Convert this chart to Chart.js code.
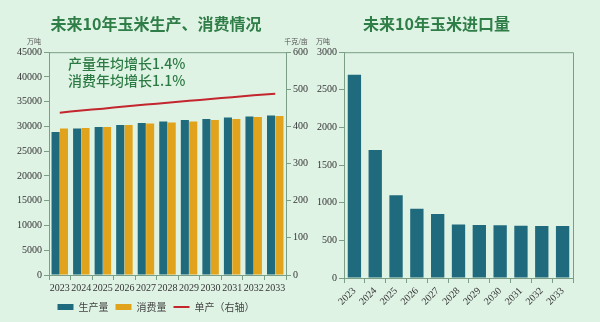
<!DOCTYPE html>
<html>
<head>
<meta charset="utf-8">
<script src="https://cdn.jsdelivr.net/npm/chart.js"></script>
<style>
  html, body { margin: 0; padding: 0; background: #dff3e5; }
  #wrap { position: relative; width: 600px; height: 322px; overflow: hidden; }
  #left { position: absolute; left: 0; top: 0; }
  #right { position: absolute; left: 300px; top: 0; }
</style>
</head>
<body>
<div id="wrap">
  <canvas id="left" width="312" height="322"></canvas>
  <canvas id="right" width="300" height="322"></canvas>
</div>
<script>
const years = ["2023", "2024", "2025", "2026", "2027", "2028", "2029", "2030", "2031", "2032", "2033"];
const production = [28900, 29600, 29900, 30300, 30700, 31000, 31300, 31500, 31800, 32000, 32200];
const consumption = [29600, 29700, 29900, 30300, 30600, 30800, 31000, 31300, 31500, 31900, 32100];
const yieldPerMu = [437, 443, 448, 454, 459, 464, 469, 474, 479, 484, 488];
const imports = [2700, 1700, 1100, 920, 850, 710, 705, 700, 695, 690, 690];
const notes = ["产量年均增长1.4%", "消费年均增长1.1%"];

const teal = "#1f6a7d";
const gold = "#e1a31b";
const red = "#c3262d";
const axisColor = "#7b9f86";
const green = "#2f7d47";
const numFont = { family: "'Liberation Serif', serif", size: 10 };

// frame, unit labels and notes
const extras = {
  id: "extras",
  afterDraw(chart, args, opts) {
    const { ctx, chartArea: a } = chart;
    ctx.save();
    ctx.strokeStyle = axisColor;
    ctx.lineWidth = 1;
    ctx.beginPath();
    ctx.moveTo(a.left, a.top + 0.5);
    ctx.lineTo(a.right + 0.5, a.top + 0.5);
    ctx.lineTo(a.right + 0.5, a.bottom);
    ctx.stroke();

    ctx.fillStyle = "#555";
    ctx.font = "7px 'Noto Sans CJK SC'";
    ctx.textAlign = "center";
    ctx.textBaseline = "middle";
    (opts.units || []).forEach(u => ctx.fillText(u.text, a.left + u.dx, a.top - 11));

    if (opts.notes) {
      ctx.fillStyle = "#2c7a43";
      ctx.font = "500 14px 'Noto Sans CJK SC'";
      ctx.textAlign = "left";
      opts.notes.forEach((t, i) => ctx.fillText(t, a.left + 19, a.top + 11 + i * 17));
    }
    ctx.restore();
  }
};

const axisBase = {
  border: { display: true, color: axisColor, width: 1 },
  grid: { display: true, drawOnChartArea: false, drawTicks: true, tickLength: 5, color: axisColor },
  ticks: { color: "#333", font: numFont, padding: 2 }
};
const plainTicks = (step) => ({ ...axisBase.ticks, stepSize: step, callback: v => String(v) });
const catTicks = (rot) => ({ ...axisBase.ticks, autoSkip: false, minRotation: rot, maxRotation: rot });

const titleOpts = (text) => ({
  display: true,
  text,
  color: green,
  font: { family: "'Noto Sans CJK SC'", size: 16, weight: "bold" },
  padding: { top: 14, bottom: 19 }
});

new Chart(document.getElementById("left"), {
  type: "bar",
  data: {
    labels: years,
    datasets: [
      { label: "单产（右轴）", type: "line", data: yieldPerMu, yAxisID: "y1",
        borderColor: red, backgroundColor: red, borderWidth: 2, pointRadius: 0,
        tension: 0.3, order: 0, pointStyle: "line" },
      { label: "生产量", data: production, backgroundColor: teal, yAxisID: "y",
        barPercentage: 0.96, categoryPercentage: 0.78, order: 1, pointStyle: "rect" },
      { label: "消费量", data: consumption, backgroundColor: gold, yAxisID: "y",
        barPercentage: 0.96, categoryPercentage: 0.78, order: 1, pointStyle: "rect" }
    ]
  },
  options: {
    responsive: false,
    animation: false,
    devicePixelRatio: 1,
    layout: { padding: 0 },
    plugins: {
      title: titleOpts("未来10年玉米生产、消费情况"),
      legend: {
        position: "bottom",
        labels: {
          sort: (a, b) => [1, 2, 0].indexOf(a.datasetIndex) - [1, 2, 0].indexOf(b.datasetIndex),
          usePointStyle: true, pointStyleWidth: 16, boxWidth: 16, boxHeight: 6,
          padding: 7, color: "#444",
          font: { family: "'Noto Sans CJK SC'", size: 10 }
        }
      },
      tooltip: { enabled: false },
      extras: {
        units: [{ text: "万吨", dx: -15 }, { text: "千克/亩", dx: 247 }],
        notes
      }
    },
    scales: {
      x: { ...axisBase, ticks: catTicks(0), afterFit: s => { s.height = 20; } },
      y: { ...axisBase, min: 0, max: 45000, ticks: plainTicks(5000),
           afterFit: s => { s.width = 49; } },
      y1: { ...axisBase, position: "right", min: 0, max: 600, ticks: plainTicks(100),
            afterFit: s => { s.width = 26; } }
    }
  },
  plugins: [extras]
});

new Chart(document.getElementById("right"), {
  type: "bar",
  data: {
    labels: years,
    datasets: [
      { label: "进口量", data: imports, backgroundColor: teal,
        barPercentage: 0.64, categoryPercentage: 1 }
    ]
  },
  options: {
    responsive: false,
    animation: false,
    devicePixelRatio: 1,
    layout: { padding: { right: 27 } },
    plugins: {
      title: titleOpts("未来10年玉米进口量"),
      legend: { display: false },
      tooltip: { enabled: false },
      extras: { units: [{ text: "万吨", dx: -21 }] }
    },
    scales: {
      x: { ...axisBase, ticks: catTicks(45), afterFit: s => { s.height = 44; } },
      y: { ...axisBase, min: 0, max: 3000, ticks: plainTicks(500),
           afterFit: s => { s.width = 44; } }
    }
  },
  plugins: [extras]
});
</script>
</body>
</html>
